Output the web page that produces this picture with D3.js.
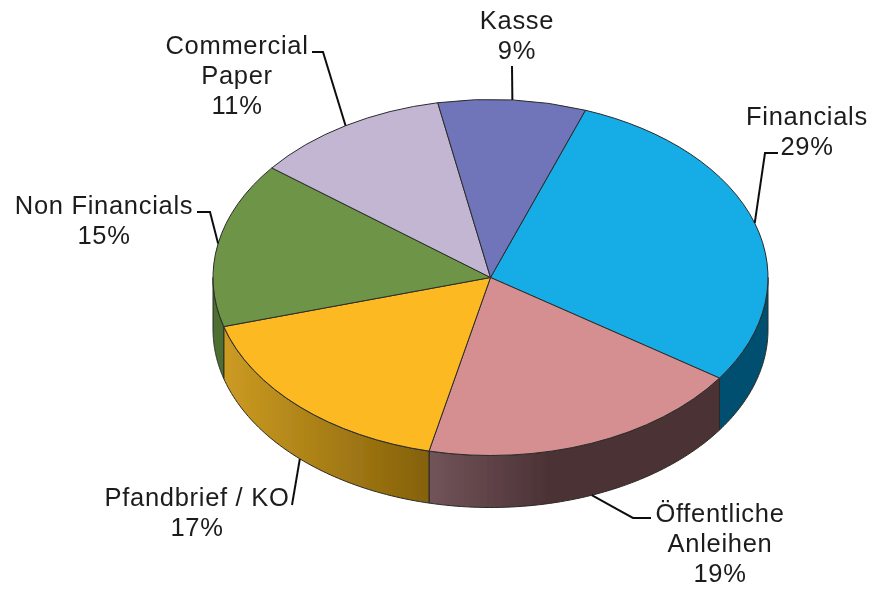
<!DOCTYPE html>
<html><head><meta charset="utf-8">
<script src="https://cdn.jsdelivr.net/npm/d3@7/dist/d3.min.js"></script>
<style>html,body{margin:0;padding:0;background:#fff}svg{display:block}</style>
</head><body><div id="c"></div>
<script>
const categories = ["Financials","Öffentliche Anleihen","Pfandbrief / KO","Non Financials","Commercial Paper","Kasse"];
const values = [29,19,17,15,11.4,8.6];
const percentLabels = ["29%","19%","17%","15%","11%","9%"];
const labelLines = [["Financials"],["Öffentliche","Anleihen"],["Pfandbrief / KO"],["Non Financials"],["Commercial","Paper"],["Kasse"]];
const topColors = ["#12ace5","#d58f91","#fdb921","#6d9446","#c2b6d3","#7074b9"];
const sideLeft = ["#004f70","#72545a","#cc9b22","#4d6f33","#8a8098","#4f5283"];
const sideRight = ["#004f70","#4c3336","#84610a","#4d6f33","#8a8098","#4f5283"];

const W=875,H=590,cx=490.5,cy=277.5,rx=277.5,ry=178,depth=52,fs=25.5,lh=30;
// label layout: text centre x, first baseline y, leader elbow path
const layout=[
 {x:807,y:125,elbow:[[765,153],[778,153]],side:false},
 {x:720,y:522,elbow:[[633,518],[651,518]],side:true},
 {x:197,y:506,elbow:[[292,505]],side:true},
 {x:104,y:214,elbow:[[210,212],[197,212]],side:false},
 {x:237,y:54,elbow:[[323,52],[312,52]],side:false},
 {x:517,y:29,elbow:[[512,66]],side:false}
];
const svg=d3.select("#c").append("svg").attr("width",W).attr("height",H);
const defs=svg.append("defs");
defs.append("filter").attr("id","soft").attr("x","-5%").attr("y","-5%").attr("width","110%").attr("height","110%")
  .append("feGaussianBlur").attr("stdDeviation",0.45);
const root=svg.append("g").attr("filter","url(#soft)");
const pie=d3.pie().sort(null).value(d=>d).startAngle(20*Math.PI/180).endAngle(380*Math.PI/180);
const arcs=pie(values);
const px=(a,dz=0)=>[cx+rx*Math.sin(a),cy-ry*Math.cos(a)+dz];
const line=d3.line();

// sides
const sides=root.append("g");
arcs.forEach((d,i)=>{
  const a0=Math.max(d.startAngle,Math.PI/2),a1=Math.min(d.endAngle,3*Math.PI/2);
  if(a1<=a0) return;
  const as=d3.range(0,61).map(k=>a0+(a1-a0)*k/60);
  const pts=as.map(a=>px(a)).concat(as.slice().reverse().map(a=>px(a,depth)));
  const xs=pts.map(p=>p[0]);
  const g=defs.append("linearGradient").attr("id","s"+i).attr("gradientUnits","userSpaceOnUse")
    .attr("x1",d3.min(xs)).attr("x2",d3.max(xs)).attr("y1",0).attr("y2",0);
  g.append("stop").attr("offset",0).attr("stop-color",sideLeft[i]);
  if(i===1) g.append("stop").attr("offset",.4).attr("stop-color",sideRight[i]);
  g.append("stop").attr("offset",1).attr("stop-color",sideRight[i]);
  sides.append("path").attr("d",line(pts)+"Z").attr("fill","url(#s"+i+")")
    .attr("stroke","#2a2a22").attr("stroke-width",1).attr("stroke-linejoin","round");
});

// tops
const arc=d3.arc().innerRadius(0).outerRadius(rx);
root.append("g").attr("transform",`translate(${cx},${cy}) scale(1,${ry/rx})`)
 .selectAll("path").data(arcs).join("path")
 .attr("d",arc).attr("fill",(d,i)=>topColors[i])
 .attr("stroke","#2b2b2b").attr("stroke-width",1).attr("vector-effect","non-scaling-stroke").attr("stroke-linejoin","round");

// leaders
const lead=root.append("g");
arcs.forEach((d,i)=>{
  const m=(d.startAngle+d.endAngle)/2;
  const a=px(m,layout[i].side?depth:0);
  lead.append("path").attr("d",line([a,...layout[i].elbow])).attr("fill","none").attr("stroke","#111").attr("stroke-width",2);
});

// labels
const tg=root.append("g").attr("font-family","'Liberation Sans',Arial,sans-serif").attr("font-size",fs).attr("letter-spacing",0.7).attr("fill","#1c1c1c").attr("text-anchor","middle");
labelLines.forEach((ls,i)=>{
  ls.concat(percentLabels[i]).forEach((t,k)=>{
    tg.append("text").attr("x",layout[i].x).attr("y",layout[i].y+k*lh).text(t);
  });
});
</script></body></html>
